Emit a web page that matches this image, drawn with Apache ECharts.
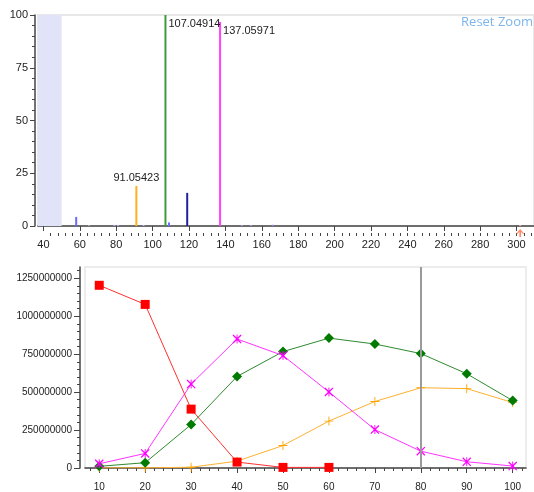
<!DOCTYPE html>
<html>
<head>
<meta charset="utf-8">
<script src="https://cdn.jsdelivr.net/npm/echarts@6/dist/echarts.min.js"></script>
<style>html,body{margin:0;padding:0;background:#fff}#c{width:534px;height:492px}</style>
</head>
<body>
<div id="c"></div>
<script>
// ---- Spectrum (top) data ----
const mzValues = [58, 65, 79, 81, 91.05423, 95, 107.04914, 109, 119, 137.05971, 149, 154, 166, 302];
const relIntensity = [4.3, 0.3, 0.5, 0.5, 19.0, 0.5, 100, 1.7, 15.7, 96.7, 0.4, 0.4, 0.6, 0.4];
const labeledPeaks = [91.05423, 107.04914, 137.05971];
const precursorMz = [302];
const excludedRange = [37, 50];
const mzTickLabels = [40, 60, 80, 100, 120, 140, 160, 180, 200, 220, 240, 260, 280, 300];
const intensityTickLabels = [0, 25, 50, 75, 100];

// ---- Chromatogram (bottom) data ----
const timeCats = [10, 20, 30, 40, 50, 60, 70, 80, 90, 100];
const redValues = [1204000000, 1078000000, 388000000, 39000000, 4000000, 4000000];
const magentaValues = [28000000, 96000000, 553000000, 850000000, 741000000, 501000000, 253000000, 111000000, 41000000, 13000000];
const greenValues = [11000000, 35000000, 286000000, 603000000, 767000000, 856000000, 817000000, 754000000, 621000000, 444000000];
const orangeValues = [1000000, 1000000, 5000000, 45000000, 148000000, 309000000, 438000000, 529000000, 523000000, 431000000];
const selectedTime = 80;
const areaTickLabels = [0, 250000000, 500000000, 750000000, 1000000000, 1250000000];

// ---- styles ----
const peakColors = ['#6a6aff', '#c8c8ff', '#a8a8ff', '#a8a8ff', '#ffb020', '#b0b0ff', '#3c9c3c', '#7070ff', '#2020a0', '#ff40ff', '#a8a8ff', '#a8a8ff', '#8c8cff', '#ffb8c8'];
const txt = '#222';
const font = 'Liberation Sans, Arial, sans-serif';

function range(a, b, s) { const r = []; for (let v = a; v <= b + 1e-9; v += s) r.push(+v.toFixed(6)); return r; }

const peakData = mzValues.map((m, i) => {
  const item = { value: [m, relIntensity[i]], itemStyle: { color: peakColors[i] } };
  if (labeledPeaks.includes(m)) {
    const lab = { show: true, formatter: String(m), fontSize: 11, color: txt, fontFamily: font };
    if (m === 91.05423) { lab.position = 'top'; lab.distance = 2; }
    else { lab.position = [4, 9]; lab.align = 'left'; lab.verticalAlign = 'middle'; }
    item.label = lab;
  }
  return item;
});

const plusPath = 'path://M4.5,0h1v4.5h4.5v1h-4.5v4.5h-1v-4.5h-4.5v-1h4.5z';
const starPath = 'path://M0,1L1,0L10,9L9,10Z M9,0L10,1L1,10L0,9Z M3.5,3.5h3v3h-3z M4.5,0h1v10h-1z';
const arrowPath = 'path://M5,0L10,6L8,6L6,3.5L6,10L4,10L4,3.5L2,6L0,6Z';

const chart = echarts.init(document.getElementById('c'), null, { renderer: 'canvas' });
chart.setOption({
  animation: false,
  textStyle: { fontFamily: font },
  grid: [
    { left: 38, top: 15, width: 500, height: 211, show: true, borderColor: '#e8e8e8', borderWidth: 2, backgroundColor: '#fff' },
    { left: 85, top: 267, width: 441, height: 203, show: true, borderColor: '#ececec', borderWidth: 2, backgroundColor: '#fff' }
  ],
  xAxis: [
    { type: 'value', gridIndex: 0, position: 'bottom', min: 37, max: 309.6, offset: 7,
      axisLine: { show: true, lineStyle: { color: '#444', width: 1.5 } },
      axisTick: { show: true, customValues: mzTickLabels, length: 5, lineStyle: { color: '#444' } },
      axisLabel: { customValues: mzTickLabels, fontSize: 11, color: txt, margin: 6 },
      splitLine: { show: false } },
    { type: 'value', gridIndex: 0, position: 'bottom', min: 37, max: 309.6, offset: 7,
      axisLine: { show: false },
      axisTick: { show: true, customValues: range(44, 308, 4), length: 3, lineStyle: { color: '#444' } },
      axisLabel: { show: false }, splitLine: { show: false } },
    { type: 'value', gridIndex: 1, position: 'bottom', min: 6.9, max: 102.9, offset: 6,
      axisLine: { show: true, lineStyle: { color: '#444', width: 1.5 } },
      axisTick: { show: true, customValues: timeCats, length: 5, lineStyle: { color: '#444' } },
      axisLabel: { customValues: timeCats, fontSize: 10, color: txt, margin: 8 },
      splitLine: { show: false } },
    { type: 'value', gridIndex: 1, position: 'bottom', min: 6.9, max: 102.9, offset: 6,
      axisLine: { show: false },
      axisTick: { show: true, customValues: range(8, 102, 2), length: 3, lineStyle: { color: '#444' } },
      axisLabel: { show: false }, splitLine: { show: false } }
  ],
  yAxis: [
    { type: 'value', gridIndex: 0, position: 'left', min: 0, max: 100, interval: 25, offset: 3,
      axisLine: { show: true, lineStyle: { color: '#444', width: 1.5 } },
      axisTick: { show: true, length: 5, lineStyle: { color: '#444' } },
      minorTick: { show: true, splitNumber: 5, length: 3, lineStyle: { color: '#444' } },
      axisLabel: { fontSize: 11, color: txt, margin: 7 },
      splitLine: { show: false }, minorSplitLine: { show: false } },
    { type: 'value', gridIndex: 1, position: 'left', min: 0, max: 1324500000, offset: 5,
      axisLine: { show: true, lineStyle: { color: '#444', width: 1.5 } },
      axisTick: { show: true, customValues: areaTickLabels, length: 6, lineStyle: { color: '#444' } },
      axisLabel: { customValues: areaTickLabels, fontSize: 10, color: txt, margin: 8, formatter: v => String(v) },
      splitLine: { show: false } },
    { type: 'value', gridIndex: 1, position: 'left', min: 0, max: 1324500000, offset: 5,
      axisLine: { show: false },
      axisTick: { show: true, customValues: range(50000000, 1300000000, 50000000), length: 3, lineStyle: { color: '#444' } },
      axisLabel: { show: false }, splitLine: { show: false } }
  ],
  graphic: [
    { type: 'text', right: 1, top: 16, style: { text: 'Reset Zoom', fill: '#7cb5ec', font: '13px "Open Sans", sans-serif' } }
  ],
  series: [
    { type: 'bar', xAxisIndex: 0, yAxisIndex: 0, barWidth: 2, data: peakData, z: 3,
      markArea: { silent: true, itemStyle: { color: '#e1e4f8' },
        data: [[{ xAxis: excludedRange[0] }, { xAxis: excludedRange[1] }]] } },
    { type: 'scatter', xAxisIndex: 0, yAxisIndex: 0, clip: false, symbol: arrowPath, symbolSize: [8, 8], symbolOffset: [0, 7],
      itemStyle: { color: '#ff6a3d' }, data: precursorMz.map(m => [m, 0]), z: 5 },

    { type: 'line', xAxisIndex: 2, yAxisIndex: 1, data: timeCats.map((t, i) => [t, orangeValues[i]]),
      symbol: plusPath, symbolSize: 9, lineStyle: { color: '#ffb030', width: 1 }, itemStyle: { color: '#ffa500' } },
    { type: 'line', xAxisIndex: 2, yAxisIndex: 1, data: timeCats.map((t, i) => [t, greenValues[i]]),
      symbol: 'diamond', symbolSize: 10, lineStyle: { color: '#2e8b2e', width: 1 }, itemStyle: { color: '#007a00' } },
    { type: 'line', xAxisIndex: 2, yAxisIndex: 1, data: timeCats.map((t, i) => [t, magentaValues[i]]),
      symbol: starPath, symbolSize: 9, lineStyle: { color: '#ff33ff', width: 1 }, itemStyle: { color: '#ff00ff' },
      markLine: { silent: true, symbol: 'none', label: { show: false }, lineStyle: { color: '#9a9a9a', width: 2, type: 'solid' },
        data: [{ xAxis: selectedTime }] } },
    { type: 'line', xAxisIndex: 2, yAxisIndex: 1, data: redValues.map((v, i) => [timeCats[i], v]),
      symbol: 'rect', symbolSize: 9, lineStyle: { color: '#ff3030', width: 1 }, itemStyle: { color: '#ff0000' } }
  ]
});
</script>
</body>
</html>
